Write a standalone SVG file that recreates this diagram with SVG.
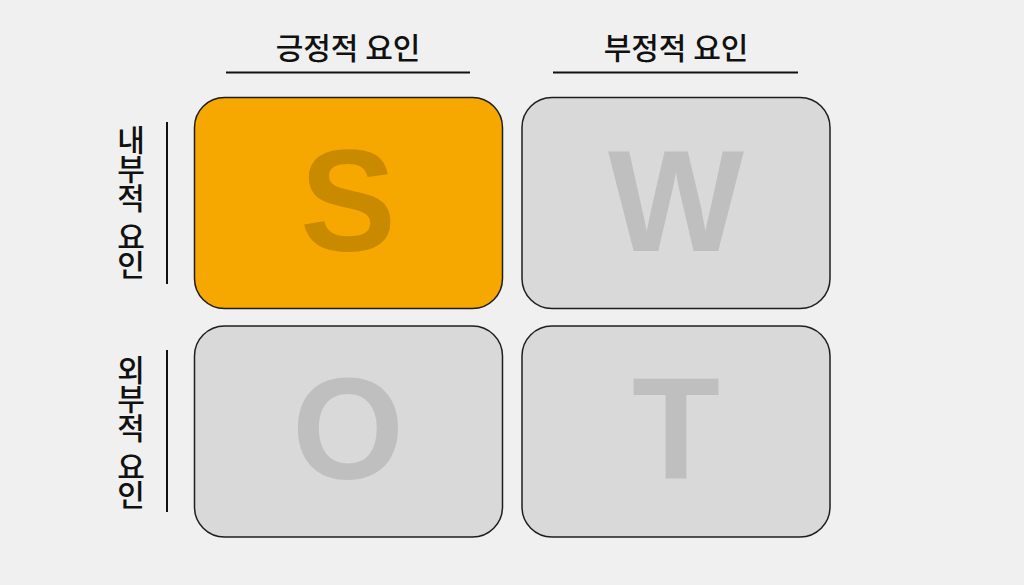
<svg xmlns="http://www.w3.org/2000/svg" width="1024" height="585" viewBox="0 0 1024 585">
<style>
.box{stroke:#1e1e1e;stroke-width:1.5}
.gray{fill:#d9d9d9}
.big{font-family:"Liberation Sans",Arial,sans-serif;font-weight:bold;font-size:144px;text-anchor:middle}
.lbl{font-family:"Noto Sans CJK KR",sans-serif;font-weight:500;font-size:30px;fill:#111;text-anchor:middle}
.v{font-family:"Noto Sans CJK KR",sans-serif;font-weight:500;font-size:30px;fill:#111;text-anchor:middle}
.rule{stroke:#111;stroke-width:2}
</style>
<rect width="1024" height="585" fill="#f0f0f0"/>
<g id="connectors">
<line class="rule" x1="226" y1="72.5" x2="470" y2="72.5"/>
<line class="rule" x1="553" y1="72.5" x2="798" y2="72.5"/>
<line class="rule" x1="167" y1="122" x2="167" y2="284"/>
<line class="rule" x1="167" y1="350" x2="167" y2="512"/>
</g>
<g id="label-positive"><text class="lbl" x="348" y="59">긍정적 요인</text></g>
<g id="label-negative"><text class="lbl" x="676" y="59">부정적 요인</text></g>
<g id="label-internal">
<text class="v" x="131" y="151">내</text>
<text class="v" x="131" y="180">부</text>
<text class="v" x="131" y="209">적</text>
<text class="v" x="131" y="248">요</text>
<text class="v" x="131" y="276">인</text>
</g>
<g id="label-external">
<text class="v" x="131" y="381">외</text>
<text class="v" x="131" y="410">부</text>
<text class="v" x="131" y="439">적</text>
<text class="v" x="131" y="478">요</text>
<text class="v" x="131" y="506">인</text>
</g>
<g id="node-S">
<rect class="box" x="194.5" y="97.5" width="308" height="211" rx="30" fill="#f7a800"/>
<text class="big" x="348" y="251" fill="#c98a00">S</text>
</g>
<g id="node-W">
<rect class="box gray" x="522" y="97.5" width="308" height="211" rx="30"/>
<text class="big" x="676" y="251" fill="#bfbfbf">W</text>
</g>
<g id="node-O">
<rect class="box gray" x="194.5" y="326" width="308" height="211" rx="30"/>
<text class="big" x="348" y="479" fill="#bfbfbf">O</text>
</g>
<g id="node-T">
<rect class="box gray" x="522" y="326" width="308" height="211" rx="30"/>
<text class="big" x="676" y="479" fill="#bfbfbf">T</text>
</g>
</svg>
